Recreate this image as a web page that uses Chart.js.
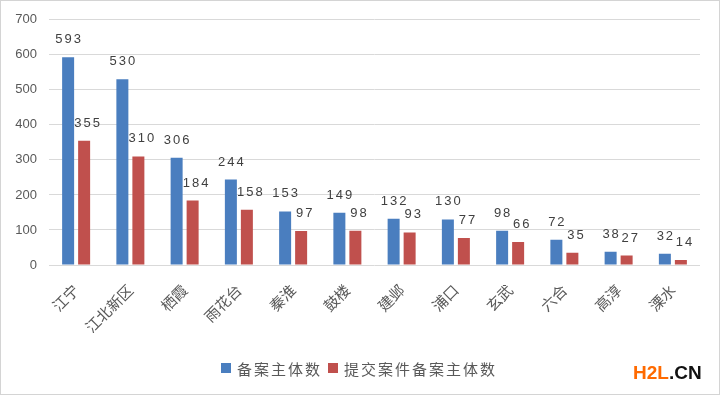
<!DOCTYPE html>
<html lang="zh">
<head>
  <meta charset="UTF-8">
  <title>备案主体数</title>
  <script src="https://cdn.jsdelivr.net/npm/chart.js"></script>
  <style>
    body { margin: 0; background: #fff; }
  </style>
</head>
<body>
  <canvas id="chart" width="720" height="395"></canvas>

  <script>
    const districts = ['江宁', '江北新区', '栖霞', '雨花台', '秦淮', '鼓楼', '建邺', '浦口', '玄武', '六合', '高淳', '溧水'];
    const filed = [593, 530, 306, 244, 153, 149, 132, 130, 98, 72, 38, 32];
    const submitted = [355, 310, 184, 158, 97, 98, 93, 77, 66, 35, 27, 14];
    const yTicks = [0, 100, 200, 300, 400, 500, 600, 700];

    const CJK = '"Noto Sans CJK SC", sans-serif';

    // value labels above each bar
    const valueLabels = {
      id: 'valueLabels',
      afterDatasetsDraw(chart) {
        const ctx = chart.ctx;
        ctx.save();
        ctx.font = '13px "Liberation Sans", sans-serif';
        ctx.letterSpacing = '2px';
        ctx.fillStyle = '#404040';
        ctx.textAlign = 'center';
        ctx.textBaseline = 'alphabetic';
        chart.data.datasets.forEach((ds, i) => {
          chart.getDatasetMeta(i).data.forEach((bar, j) => {
            ctx.fillText(String(ds.data[j]), bar.x + 1 + i * 3, bar.y - 14);
          });
        });
        ctx.restore();
      }
    };

    // legend, watermark and frame
    const extras = {
      id: 'extras',
      afterDraw(chart) {
        const ctx = chart.ctx;
        ctx.save();
        ctx.font = '15px ' + CJK;
        ctx.letterSpacing = '2px';
        ctx.textBaseline = 'middle';
        ctx.textAlign = 'left';
        let x = 221;
        const y = 368;
        chart.data.datasets.forEach(ds => {
          ctx.fillStyle = ds.backgroundColor;
          ctx.fillRect(x, y - 5, 10, 10);
          ctx.fillStyle = '#595959';
          ctx.fillText(ds.label, x + 16, y + 1);
          x += 16 + ctx.measureText(ds.label).width + 6;
        });

        ctx.letterSpacing = '0px';
        ctx.font = 'bold 19px "Liberation Sans", sans-serif';
        ctx.textBaseline = 'alphabetic';
        ctx.fillStyle = '#ff6a00';
        ctx.fillText('H2L', 633, 379);
        const w = ctx.measureText('H2L').width;
        ctx.fillStyle = '#111';
        ctx.fillText('.CN', 633 + w, 379);

        ctx.strokeStyle = '#d4d4d4';
        ctx.lineWidth = 1;
        ctx.strokeRect(0.5, 0.5, 719, 394);
        ctx.restore();
      }
    };

    new Chart(document.getElementById('chart'), {
      type: 'bar',
      data: {
        labels: districts,
        datasets: [
          { label: '备案主体数', data: filed, backgroundColor: '#4a7ebf' },
          { label: '提交案件备案主体数', data: submitted, backgroundColor: '#c0504d' }
        ]
      },
      options: {
        responsive: false,
        animation: false,
        layout: { padding: { top: 19, right: 20, bottom: 50, left: 0 } },
        datasets: {
          bar: { categoryPercentage: 0.59, barPercentage: 0.75 }
        },
        plugins: {
          legend: { display: false },
          tooltip: { enabled: false }
        },
        scales: {
          x: {
            grid: { display: false },
            border: { display: false },
            ticks: {
              minRotation: 45,
              maxRotation: 45,
              color: '#595959',
              font: { family: CJK, size: 15 },
              padding: 8
            },
            afterFit(scale) { scale.height = 80; }
          },
          y: {
            min: 0,
            max: 700,
            afterBuildTicks(scale) { scale.ticks = yTicks.map(v => ({ value: v })); },
            grid: { color: '#d9d9d9', drawTicks: false },
            border: { display: false },
            ticks: {
              color: '#595959',
              font: { family: '"Liberation Sans", sans-serif', size: 13 },
              padding: 12
            },
            afterFit(scale) { scale.width = 49; }
          }
        }
      },
      plugins: [valueLabels, extras]
    });
  </script>
</body>
</html>
